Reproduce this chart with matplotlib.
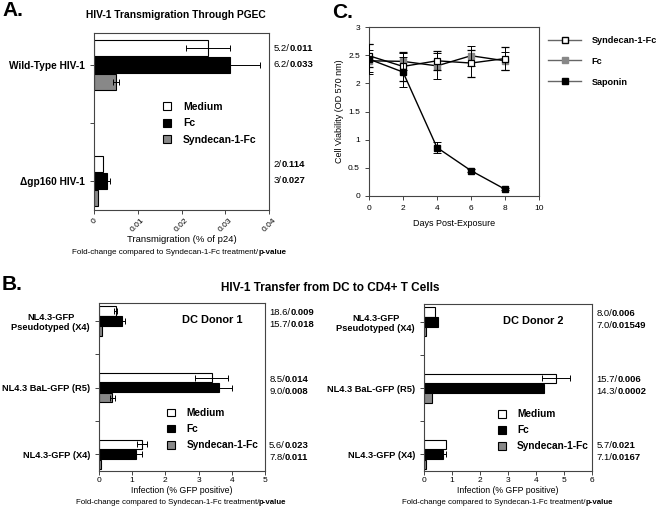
import matplotlib
matplotlib.use('Agg')
import matplotlib.pyplot as plt
import matplotlib.transforms as mtransforms
from matplotlib import font_manager
from matplotlib.patches import Patch
from matplotlib.lines import Line2D
import numpy as np

plt.rcParams['font.family'] = ['Liberation Sans', 'DejaVu Sans']
installed = {f.name for f in font_manager.fontManager.ttflist}
if 'Liberation Sans Narrow' in installed:
    NARROW = ['Liberation Sans Narrow', 'DejaVu Sans']
else:
    NARROW = ['Liberation Sans', 'DejaVu Sans']

# ---- data ----
treatments = ['Medium', 'Fc', 'Syndecan-1-Fc']
bar_colors = ['white', 'black', '#888888']

# Panel A: transmigration (% of p24)
a_groups = ['Wild-Type HIV-1', '\u0394gp160 HIV-1']
a_values = {'Medium': [0.026, 0.002],
            'Fc': [0.031, 0.003],
            'Syndecan-1-Fc': [0.005, 0.001]}
a_err = {'Medium': [0.005, 0.0],
         'Fc': [0.007, 0.0007],
         'Syndecan-1-Fc': [0.0006, 0.0]}
a_fold = [['5.2', '6.2'], ['2', '3']]
a_pval = [['0.011', '0.033'], ['0.114', '0.027']]

# Panel C: cell viability
days = [0, 2, 4, 6, 8]
via_syn = [2.49, 2.30, 2.40, 2.36, 2.44]
via_syn_err = [0.2, 0.25, 0.17, 0.24, 0.21]
via_fc = [2.40, 2.39, 2.31, 2.49, 2.40]
via_fc_err = [0.2, 0.15, 0.23, 0.18, 0.16]
via_sap = [2.43, 2.20, 0.86, 0.45, 0.12]
via_sap_err = [0.27, 0.26, 0.1, 0.03, 0.02]

# Panel B: infection (% GFP positive)
b_groups = ['NL4.3-GFP\nPseudotyped (X4)', 'NL4.3 BaL-GFP (R5)', 'NL4.3-GFP (X4)']
d1_values = {'Medium': [0.5, 3.4, 1.3],
             'Fc': [0.7, 3.6, 1.1],
             'Syndecan-1-Fc': [0.1, 0.4, 0.07]}
d1_err = {'Medium': [0.05, 0.5, 0.15],
          'Fc': [0.07, 0.4, 0.2],
          'Syndecan-1-Fc': [0.0, 0.07, 0.0]}
d1_fold = [['18.6', '15.7'], ['8.5', '9.0'], ['5.6', '7.8']]
d1_pval = [['0.009', '0.018'], ['0.014', '0.008'], ['0.023', '0.011']]

d2_values = {'Medium': [0.4, 4.7, 0.8],
             'Fc': [0.51, 4.3, 0.69],
             'Syndecan-1-Fc': [0.07, 0.3, 0.08]}
d2_err = {'Medium': [0.0, 0.5, 0.0],
          'Fc': [0.0, 0.0, 0.08],
          'Syndecan-1-Fc': [0.0, 0.0, 0.0]}
d2_fold = [['8.0', '7.0'], ['15.7', '14.3'], ['5.7', '7.1']]
d2_pval = [['0.006', '0.01549'], ['0.006', '0.0002'], ['0.021', '0.0167']]

W, H = 664, 512
fig = plt.figure(figsize=(W / 100, H / 100), dpi=100)


def px_axes(x0, y0, x1, y1):
    return fig.add_axes([x0 / W, 1 - y1 / H, (x1 - x0) / W, (y1 - y0) / H])


def style_box(ax):
    for s in ax.spines.values():
        s.set_linewidth(0.8)
        s.set_color('#444444')
    ax.tick_params(length=3, width=0.7, labelsize=6, color='#444444')


def fold_label(ax, y, fold, p, fs=6.8):
    tr = mtransforms.blended_transform_factory(ax.transAxes, ax.transData)
    t = ax.text(1.025, y, fold + '/', transform=tr, va='center', ha='left',
                fontsize=fs, family=NARROW)
    ax.annotate(p, xy=(1, 0), xycoords=t, va='bottom', ha='left',
                fontsize=fs, fontweight='bold', family=NARROW)


captions = []


def fold_caption(xc, y0, width):
    t = fig.text(xc / W, 1 - y0 / H,
                 'Fold-change compared to Syndecan-1-Fc treatment/',
                 ha='left', va='center', fontsize=6.5, family=NARROW)
    ann = plt.annotate('p-value', xy=(1, 0), xycoords=t, va='bottom',
                       ha='left', fontsize=6.5, fontweight='bold',
                       family=NARROW, annotation_clip=False)
    captions.append((t, ann, xc, width))


def hbars(ax, pos, values, errs, off, height):
    for k, tr in enumerate(treatments):
        y = np.array(pos) + off[k]
        ax.barh(y, values[tr], height=height, color=bar_colors[k],
                edgecolor='black', linewidth=0.8, zorder=2)
        e = np.array(errs[tr])
        m = e > 0
        if m.any():
            ax.errorbar(np.array(values[tr])[m], y[m], xerr=e[m], fmt='none',
                        ecolor='black', elinewidth=0.7, capsize=2,
                        capthick=0.7, zorder=3)


def bar_legend(ax, anchor, fs=7.5):
    handles = [Patch(facecolor=c, edgecolor='black', linewidth=0.8)
               for c in bar_colors]
    leg = ax.legend(handles, treatments, loc='upper left',
                    bbox_to_anchor=anchor, frameon=False, borderpad=0,
                    borderaxespad=0, handlelength=0.8, handleheight=0.8,
                    handletextpad=1.1, labelspacing=0.6,
                    prop={'weight': 'bold', 'size': fs})
    return leg


# ---------------- Panel A ----------------
axA = px_axes(94, 33, 269, 210)
style_box(axA)
a_pos = [0, 2]
hbars(axA, a_pos, a_values, a_err, [-0.29, 0, 0.29], 0.28)
axA.set_ylim(2.5, -0.55)
axA.set_xlim(0, 0.04)
axA.set_yticks([0, 1, 2])
axA.set_yticklabels([a_groups[0], '', a_groups[1]], fontsize=7.3,
                    fontweight='bold')
axA.set_xticks([0, 0.01, 0.02, 0.03, 0.04])
axA.set_xticklabels(['0', '0.01', '0.02', '0.03', '0.04'], rotation=45,
                    ha='center', va='top')
axA.tick_params(axis='x', pad=2)
axA.set_xlabel('Transmigration (% of p24)', fontsize=6.8, labelpad=1)
for g in range(2):
    fold_label(axA, a_pos[g] - 0.29, a_fold[g][0], a_pval[g][0])
    fold_label(axA, a_pos[g], a_fold[g][1], a_pval[g][1])
bar_legend(axA, (0.395, 0.61))
fig.text(176 / W, 1 - 15 / H, 'HIV-1 Transmigration Through PGEC',
         ha='center', va='center', fontsize=7.4, fontweight='bold')
fig.text(2 / W, 1 - 10 / H, 'A.', fontsize=15, fontweight='bold', va='center')

# ---------------- Panel C ----------------
axC = px_axes(369, 27, 539, 196)
style_box(axC)
axC.errorbar(days, via_syn, yerr=via_syn_err, color='black', lw=1,
             marker='s', ms=4.6, mfc='white', mec='black', mew=0.9,
             ecolor='black', elinewidth=0.7, capsize=3, capthick=0.7, zorder=4)
axC.errorbar(days, via_fc, yerr=via_fc_err, color='black', lw=1,
             marker='s', ms=4.6, mfc='#888888', mec='#888888',
             ecolor='black', elinewidth=0.7, capsize=3, capthick=0.7, zorder=3)
axC.errorbar(days, via_sap, yerr=via_sap_err, color='black', lw=1,
             marker='s', ms=4.6, mfc='black', mec='black',
             ecolor='black', elinewidth=0.7, capsize=3, capthick=0.7, zorder=5)
axC.set_xlim(0, 10)
axC.set_ylim(0, 3)
axC.set_xticks([0, 2, 4, 6, 8, 10])
axC.set_yticks([0, 0.5, 1, 1.5, 2, 2.5, 3])
axC.set_yticklabels(['0', '0.5', '1', '1.5', '2', '2.5', '3'])
axC.set_xlabel('Days Post-Exposure', fontsize=6.5, labelpad=5)
axC.set_ylabel('Cell Viability (OD 570 nm)', fontsize=6.5, labelpad=3)
c_handles = [
    Line2D([], [], color='#666666', lw=1, marker='s', ms=4, mfc='white', mec='black'),
    Line2D([], [], color='#666666', lw=1, marker='s', ms=4, mfc='#888888', mec='#888888'),
    Line2D([], [], color='#666666', lw=1, marker='s', ms=4, mfc='black', mec='black')]
axC.legend(c_handles, ['Syndecan-1-Fc', 'Fc', 'Saponin'], loc='upper left',
           bbox_to_anchor=(1.053, 0.948), frameon=False, borderpad=0,
           borderaxespad=0, handlelength=3.6, handletextpad=1.15,
           labelspacing=1.3, prop={'weight': 'bold', 'size': 6.6})
fig.text(332 / W, 1 - 12 / H, 'C.', fontsize=15, fontweight='bold', va='center')

# ---------------- Panel B ----------------
fig.text(330 / W, 1 - 288 / H, 'HIV-1 Transfer from DC to CD4+ T Cells',
         ha='center', va='center', fontsize=8.5, fontweight='bold')
fig.text(2 / W, 1 - 284 / H, 'B.', fontsize=15, fontweight='bold', va='center')

b_pos = [0, 1, 2]
panels = [((99, 303, 265, 471), d1_values, d1_err, d1_fold, d1_pval, 5,
           'DC Donor 1', (0.68, 0.9), (0.41, 0.375)),
          ((424, 304, 592, 471), d2_values, d2_err, d2_fold, d2_pval, 6,
           'DC Donor 2', (0.65, 0.9), (0.44, 0.37))]
for box, vals, errs, folds, pvals, xmax, title, tpos, lpos in panels:
    ax = px_axes(*box)
    style_box(ax)
    hbars(ax, b_pos, vals, errs, [-0.15, 0, 0.15], 0.14)
    ax.set_ylim(2.25, -0.27)
    ax.set_xlim(0, xmax)
    ax.set_xticks(range(xmax + 1))
    ax.set_yticks([0, 0.5, 1, 1.5, 2])
    ax.set_yticklabels([b_groups[0], '', b_groups[1], '', b_groups[2]],
                       fontsize=6.7, fontweight='bold', multialignment='center')
    ax.tick_params(axis='x', pad=1.5)
    ax.set_xlabel('Infection (% GFP positive)', fontsize=6.3, labelpad=1)
    ax.text(tpos[0], tpos[1], title, transform=ax.transAxes, ha='center',
            va='center', fontsize=7.9, fontweight='bold')
    for g in range(3):
        fold_label(ax, b_pos[g] - 0.13, folds[g][0], pvals[g][0])
        fold_label(ax, b_pos[g] + 0.05, folds[g][1], pvals[g][1])
    bar_legend(ax, lpos, fs=7.3)

# fold-change captions under each bar panel, centred where the reference has them
for xc, y0, wd in [(179, 253, 192), (181, 502, 187), (508, 502, 188)]:
    fold_caption(xc, y0, wd)
fig.canvas.draw()
rend = fig.canvas.get_renderer()
for t, ann, xc, wd in captions:
    w = t.get_window_extent(rend).width + ann.get_window_extent(rend).width
    # a little wider than the condensed original so the text stays legible
    fs = min(6.0, 6.5 * wd * 1.12 / w)
    t.set_fontsize(fs)
    ann.set_fontsize(fs)
    w = t.get_window_extent(rend).width + ann.get_window_extent(rend).width
    t.set_x((xc - w / 2) / W)

fig.savefig('out.png', dpi=100)
